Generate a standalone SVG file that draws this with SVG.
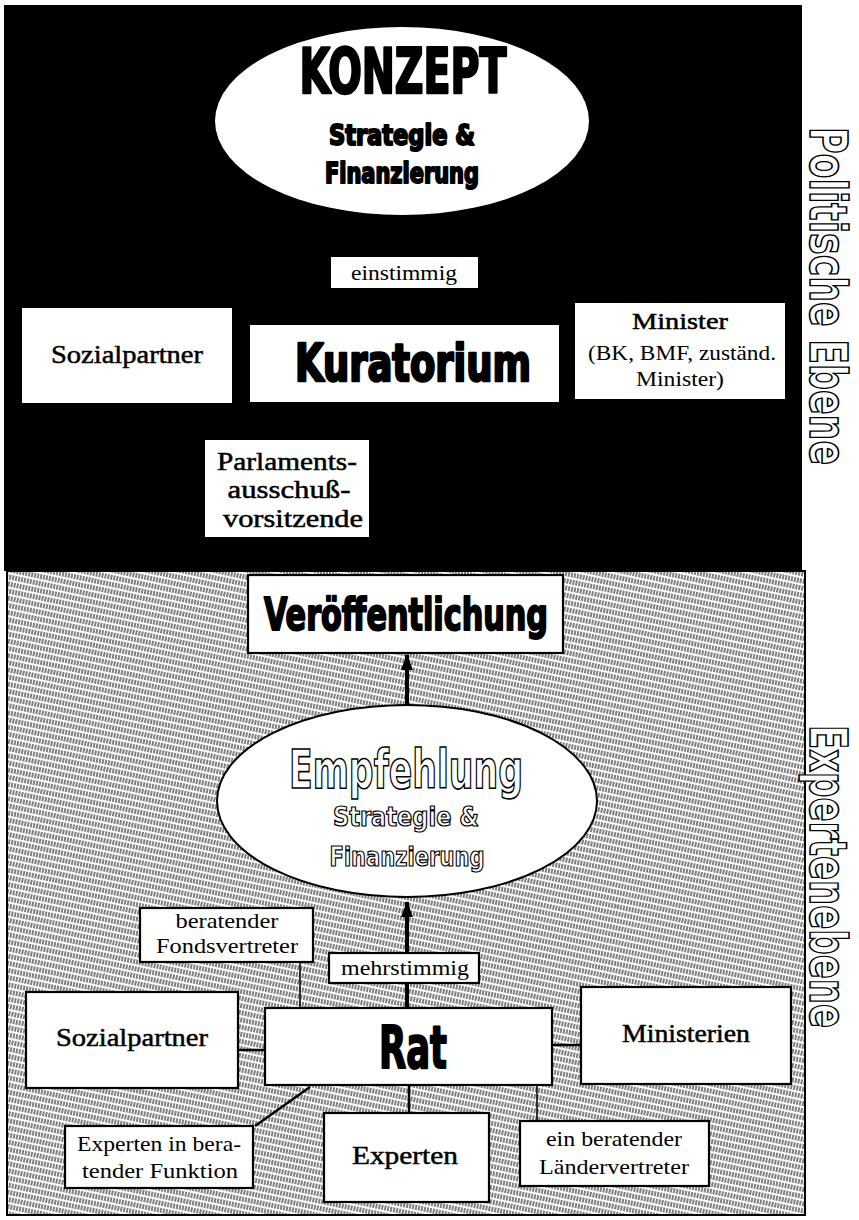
<svg xmlns="http://www.w3.org/2000/svg" width="859" height="1220" viewBox="0 0 859 1220">
<defs>
<pattern id="hatch" width="3" height="7" patternUnits="userSpaceOnUse" patternTransform="rotate(12)">
<rect width="3" height="7" fill="#fff"/>
<line x1="1" y1="0" x2="1" y2="5" stroke="#000" stroke-width="1"/>
</pattern>
<marker id="ah" viewBox="0 0 16 12" refX="15" refY="6" markerWidth="16" markerHeight="12" orient="auto" markerUnits="userSpaceOnUse">
<path d="M0,0 L16,6 L0,12 z" fill="#000"/>
</marker>
<style>
.hv{font-family:"Liberation Sans Narrow","DejaVu Sans Condensed","Liberation Sans",sans-serif;font-weight:bold;text-anchor:middle}
.blk{fill:#000;stroke:#000;stroke-width:2;stroke-linejoin:round}
.out{fill:#fff;stroke:#000;stroke-width:1.6}
.sf{font-family:"Liberation Serif","DejaVu Serif",serif;fill:#000;text-anchor:middle}
.med{stroke:#000;stroke-width:0.5}
.box{fill:#fff}
.bbox{fill:#fff;stroke:#000;stroke-width:2.2}
.ln{stroke:#000;fill:none}
</style>
</defs>

<!-- backgrounds -->
<rect x="4" y="5" width="798" height="566" fill="#000"/>
<rect x="7" y="571" width="798" height="644" fill="url(#hatch)" stroke="#000" stroke-width="2"/>

<!-- connectors -->
<g id="connectors">
<line class="ln" x1="407" y1="705" x2="407" y2="655" stroke-width="4" marker-end="url(#ah)"/>
<line class="ln" x1="407" y1="1008" x2="407" y2="902" stroke-width="4" marker-end="url(#ah)"/>
<line class="ln" x1="300" y1="962" x2="300" y2="1008" stroke-width="1.5"/>
<line class="ln" x1="238" y1="1050" x2="265" y2="1050" stroke-width="2.5"/>
<line class="ln" x1="552" y1="1045" x2="581" y2="1045" stroke-width="2.5"/>
<line class="ln" x1="409" y1="1085" x2="409" y2="1113" stroke-width="2.5"/>
<line class="ln" x1="537" y1="1085" x2="537" y2="1121" stroke-width="1.5"/>
<line class="ln" x1="310" y1="1087" x2="255" y2="1126" stroke-width="2.5"/>
</g>

<!-- political level -->
<g id="konzept">
<ellipse cx="402" cy="121" rx="187" ry="94" fill="#fff"/>
<text class="hv blk" x="403" y="93" font-size="62" textLength="207" lengthAdjust="spacingAndGlyphs" style="stroke-width:2.5">KONZEPT</text>
<text class="hv blk" x="402" y="145" font-size="28" textLength="146" lengthAdjust="spacingAndGlyphs">Strategie &amp;</text>
<text class="hv blk" x="402" y="183" font-size="28" textLength="154" lengthAdjust="spacingAndGlyphs">Finanzierung</text>
</g>
<g id="einstimmig">
<rect class="box" x="331" y="257" width="147" height="31"/>
<text class="sf" x="404" y="280" font-size="22" textLength="106" lengthAdjust="spacingAndGlyphs">einstimmig</text>
</g>
<g id="sozialpartner-pol">
<rect class="box" x="22" y="308" width="210" height="95"/>
<text class="sf med" x="127" y="363" font-size="26" textLength="152" lengthAdjust="spacingAndGlyphs">Sozialpartner</text>
</g>
<g id="kuratorium">
<rect class="box" x="250" y="325" width="309" height="77"/>
<text class="hv blk" x="413" y="381" font-size="52" textLength="236" lengthAdjust="spacingAndGlyphs" style="stroke-width:2.6">Kuratorium</text>
</g>
<g id="minister">
<rect class="box" x="575" y="303" width="210" height="96"/>
<text class="sf med" x="680" y="329" font-size="23" textLength="96" lengthAdjust="spacingAndGlyphs">Minister</text>
<text class="sf" x="682" y="360" font-size="21" textLength="188" lengthAdjust="spacingAndGlyphs">(BK, BMF, zuständ.</text>
<text class="sf" x="680" y="386" font-size="21" textLength="88" lengthAdjust="spacingAndGlyphs">Minister)</text>
</g>
<g id="parlament">
<rect class="box" x="205" y="440" width="164" height="97"/>
<text class="sf med" x="287" y="470" font-size="25" textLength="140" lengthAdjust="spacingAndGlyphs">Parlaments-</text>
<text class="sf med" x="289" y="498" font-size="25" textLength="123" lengthAdjust="spacingAndGlyphs">ausschuß-</text>
<text class="sf med" x="293" y="527" font-size="25" textLength="140" lengthAdjust="spacingAndGlyphs">vorsitzende</text>
</g>
<g id="label-politisch">
<text class="hv out" style="text-anchor:start" transform="translate(810,127) rotate(90)" x="0" y="0" font-size="52" textLength="338" lengthAdjust="spacingAndGlyphs">Politische Ebene</text>
</g>

<!-- expert level -->
<g id="veroeffentlichung">
<rect class="bbox" x="248" y="575" width="315" height="78"/>
<text class="hv blk" x="406" y="630" font-size="45" textLength="284" lengthAdjust="spacingAndGlyphs">Veröffentlichung</text>
</g>
<g id="empfehlung">
<ellipse cx="407" cy="801" rx="190" ry="96" fill="#fff" stroke="#000" stroke-width="2"/>
<text class="hv out" x="406" y="788" font-size="54" textLength="234" lengthAdjust="spacingAndGlyphs">Empfehlung</text>
<text class="hv out" x="406" y="826" font-size="26" textLength="146" lengthAdjust="spacingAndGlyphs" style="stroke-width:1.2">Strategie &amp;</text>
<text class="hv out" x="407" y="866" font-size="26" textLength="155" lengthAdjust="spacingAndGlyphs" style="stroke-width:1.2">Finanzierung</text>
</g>
<g id="fondsvertreter">
<rect class="bbox" x="140" y="908" width="173" height="54"/>
<text class="sf" x="227" y="928" font-size="21" textLength="103" lengthAdjust="spacingAndGlyphs">beratender</text>
<text class="sf" x="227" y="953" font-size="21" textLength="142" lengthAdjust="spacingAndGlyphs">Fondsvertreter</text>
</g>
<g id="mehrstimmig">
<rect class="bbox" x="329" y="953" width="150" height="30"/>
<text class="sf" x="405" y="975" font-size="21" textLength="128" lengthAdjust="spacingAndGlyphs">mehrstimmig</text>
</g>
<g id="sozialpartner-exp">
<rect class="bbox" x="26" y="992" width="212" height="96"/>
<text class="sf med" x="132" y="1046" font-size="26" textLength="152" lengthAdjust="spacingAndGlyphs">Sozialpartner</text>
</g>
<g id="rat">
<rect class="bbox" x="265" y="1008" width="287" height="77"/>
<text class="hv blk" x="413" y="1068" font-size="58" textLength="68" lengthAdjust="spacingAndGlyphs">Rat</text>
</g>
<g id="ministerien">
<rect class="bbox" x="581" y="987" width="210" height="97"/>
<text class="sf med" x="686" y="1042" font-size="26" textLength="128" lengthAdjust="spacingAndGlyphs">Ministerien</text>
</g>
<g id="experten-beratend">
<rect class="bbox" x="65" y="1126" width="188" height="62"/>
<text class="sf" x="159" y="1151" font-size="22" textLength="164" lengthAdjust="spacingAndGlyphs">Experten in bera-</text>
<text class="sf" x="160" y="1178" font-size="22" textLength="156" lengthAdjust="spacingAndGlyphs">tender Funktion</text>
</g>
<g id="experten">
<rect class="bbox" x="324" y="1113" width="165" height="89"/>
<text class="sf med" x="405" y="1164" font-size="26" textLength="106" lengthAdjust="spacingAndGlyphs">Experten</text>
</g>
<g id="laendervertreter">
<rect class="bbox" x="520" y="1121" width="189" height="65"/>
<text class="sf" x="614" y="1146" font-size="22" textLength="136" lengthAdjust="spacingAndGlyphs">ein beratender</text>
<text class="sf" x="614" y="1174" font-size="22" textLength="150" lengthAdjust="spacingAndGlyphs">Ländervertreter</text>
</g>
<g id="label-experten">
<text class="hv out" style="text-anchor:start" transform="translate(810,725) rotate(90)" x="0" y="0" font-size="52" textLength="303" lengthAdjust="spacingAndGlyphs">Expertenebene</text>
</g>
</svg>
